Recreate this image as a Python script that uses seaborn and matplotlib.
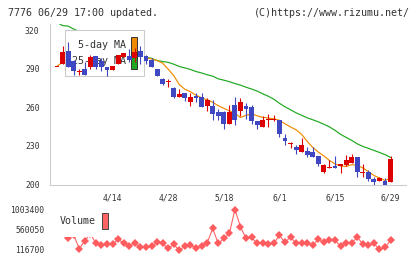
import numpy as np
import pandas as pd
import matplotlib
matplotlib.use("Agg")
import matplotlib.pyplot as plt
import seaborn as sns
from matplotlib.patches import Patch

# trading days 2020/03/31 - 2020/06/29 (golden week holidays closed)
holidays = ['2020-04-29', '2020-05-04', '2020-05-05', '2020-05-06']
days = pd.bdate_range('2020-03-31', '2020-06-29')
days = days[~days.isin(pd.to_datetime(holidays))]

label_days = ['4/14', '4/28', '5/18', '6/1', '6/15', '6/29']

opens = [292, 294, 304, 296, 288, 290, 291, 300, 296, 291, 289, 294, 299, 300, 298, 304,
         300, 297, 290, 282, 280, 275, 268, 271, 264, 269, 268, 261, 261, 256, 256, 247,
         262, 257, 261, 260, 249, 245, 250, 250, 250, 236, 232, 229, 225, 226, 225, 222,
         210, 213, 214, 214, 215, 217, 221, 209, 210, 204, 203, 203, 202]
highs = [292, 308, 311, 297, 290, 295, 301, 300, 298, 291, 292, 301, 302, 305, 306, 308,
         301, 298, 290, 283, 282, 276, 274, 271, 271, 271, 271, 267, 266, 259, 257, 262,
         268, 267, 263, 262, 249, 253, 255, 254, 250, 239, 233, 231, 236, 229, 229, 222,
         216, 219, 222, 216, 223, 224, 221, 216, 211, 206, 206, 205, 222]
lows = [292, 294, 291, 285, 285, 285, 290, 290, 288, 284, 289, 294, 299, 295, 295, 294,
        294, 291, 284, 277, 276, 267, 268, 265, 261, 264, 260, 257, 250, 250, 243, 247,
        246, 253, 251, 247, 243, 245, 245, 249, 237, 231, 228, 224, 225, 221, 221, 214,
        209, 213, 213, 209, 214, 217, 206, 206, 203, 200, 203, 200, 202]
closes = [292, 303, 291, 288, 288, 285, 299, 291, 291, 289, 292, 301, 302, 297, 303, 299,
          296, 291, 284, 278, 280, 268, 270, 267, 268, 267, 260, 266, 255, 253, 247, 256,
          250, 264, 259, 249, 246, 250, 251, 251, 239, 234, 232, 227, 231, 223, 221, 216,
          215, 213, 213, 216, 219, 221, 210, 209, 204, 202, 205, 200, 220]

ma5 = [292, 295, 297, 296, 294, 292, 291, 291, 292, 292, 291, 293, 295, 297, 299, 300,
       298.6, 297.6, 296.3, 294.3, 289.6, 284.6, 277.6, 274, 272.1, 269.4, 267.4, 265.9,
       263.9, 261.2, 259.2, 257.3, 255.3, 252, 253.8, 254.9, 253.4, 252.2, 251.7, 251,
       249.9, 247.2, 244.7, 242.5, 239, 233.5, 228.8, 225.2, 222.2, 218.7, 216, 214.4,
       214, 215.4, 214.8, 212.9, 210.1, 207, 205.1, 203.1, 205]
ma25 = [326, 323.5, 323.1, 320.8, 319, 318, 316.5, 315, 313.5, 312, 310.5, 308.5, 306.5,
        304, 302, 299.5, 298.9, 298.1, 296.3, 295.6, 294.9, 293.5, 291.7, 290.6, 289.4,
        287.8, 286.7, 285.3, 284.2, 282.1, 281.1, 279.9, 278.5, 277.2, 275.6, 274.2,
        272.6, 270.5, 268.6, 266.3, 263.1, 260.4, 258.1, 255.7, 253.8, 251.8, 250.3,
        248.7, 246.8, 244.8, 242.1, 239, 236.6, 234.3, 231.6, 229.6, 228.1, 226.5, 224.9,
        223.2, 221]

volume = [np.nan, np.nan, 376000, 436000, 138000, 306000, 464000, 249000, 211000, 227000,
          233000, 337000, 262000, 189000, 249000, 161000, 161000, 189000, 271000, 249000,
          139000, 227000, 101000, 189000, 211000, 152000, 196000, 262000, 579000, 249000,
          359000, 469000, 996000, 614000, 359000, 381000, 249000, 249000, 227000, 249000,
          431000, 271000, 394000, 249000, 262000, 249000, 211000, 337000, 271000, 321000,
          321000, 189000, 262000, 249000, 394000, 233000, 211000, 249000, 117000, 161000,
          321000]

price_ticks = [200, 230, 260, 290, 320]
vol_ticks = [116700, 560050, 1003400]

RED = '#dc0000'
BLUE = '#3f47c2'
ORANGE = '#f08a00'
GREEN = '#1fa81f'
VOLC = '#ff5c5f'
GRID = '#cccccc'
TXT = '#333333'

sns.set_style('white')
plt.rcParams['font.family'] = ['DejaVu Sans Mono']

W, H = 420, 259
fig = plt.figure(figsize=(W / 100, H / 100), dpi=100)

x = np.arange(len(days))
xlo, xhi = -1.26, 62.77

# --- price panel ---
ax = fig.add_axes([50 / W, 1 - 184.5 / H, 356 / W, 160.5 / H])
o = np.array(opens, float)
c = np.array(closes, float)
cols = np.where(c >= o, RED, BLUE)
body_h = np.maximum(np.abs(c - o), 0.8)
body_lo = np.minimum(o, c) - (body_h - np.abs(c - o)) / 2

sns.lineplot(x=x, y=ma25, color=GREEN, lw=0.85, ax=ax, legend=False, zorder=2)
sns.lineplot(x=x, y=ma5, color=ORANGE, lw=0.85, ax=ax, legend=False, zorder=2)
ax.vlines(x, lows, highs, colors=cols, lw=0.8, zorder=4)
ax.bar(x, body_h, bottom=body_lo, width=0.88, color=cols, lw=0, zorder=5)

ax.set_xlim(xlo, xhi)
ax.set_ylim(200, 200 + 160.5 / 1.2867)
sns.despine(ax=ax)
for s in ('left', 'bottom'):
    ax.spines[s].set_color(GRID)
    ax.spines[s].set_linewidth(0.8)
ax.set_yticks(price_ticks)
ax.set_xticks(np.linspace(xlo, xhi, 12))
ax.set_xticklabels([])
day_labels = [f'{d.month}/{d.day}' for d in days]
ax.set_xticks([day_labels.index(s) for s in label_days], label_days, minor=True)
ax.tick_params(axis='y', direction='inout', length=5.8, width=0.8, color=GRID,
               labelcolor=TXT, labelsize=5.8, pad=4.6)
ax.tick_params(axis='x', which='major', direction='inout', length=6.5, width=0.8, color=GRID)
ax.tick_params(axis='x', which='minor', length=0, labelcolor=TXT, labelsize=5.8, pad=6.3)
ax.set_xlabel('')
ax.set_ylabel('')

# handleheight 2.085 -> each swatch row is 1.6 font sizes tall
handles = [Patch(facecolor=ORANGE, edgecolor='#333333', lw=0.7),
           Patch(facecolor=GREEN, edgecolor='#333333', lw=0.7)]
leg = ax.legend(handles, ['5-day MA', '25-day MA'], loc='upper left',
                bbox_to_anchor=(65 / W, 1 - 30 / H), bbox_transform=fig.transFigure,
                borderaxespad=0, markerfirst=False, fontsize=7.2, handlelength=0.6,
                handleheight=2.085, handletextpad=0.5, labelspacing=0, borderpad=0.7,
                frameon=True, fancybox=False, framealpha=1, edgecolor=GRID,
                facecolor='white', labelcolor=TXT)
leg.get_frame().set_linewidth(0.8)
leg.set_zorder(3)

# --- volume panel ---
axv = fig.add_axes([50 / W, 1 - 256 / H, 356 / W, 53 / H])
sns.lineplot(x=x, y=volume, color=VOLC, lw=0.75, marker='D', markersize=4.4,
             markeredgewidth=0, ax=axv, legend=False)
axv.set_xlim(xlo, xhi)
axv.set_ylim(116700 - 6.5 * 22002, 116700 + 46.5 * 22002)
for s in axv.spines.values():
    s.set_visible(False)
axv.set_xticks([])
axv.set_yticks(vol_ticks, [str(v) for v in vol_ticks])
axv.tick_params(axis='y', length=0, labelcolor=TXT, labelsize=5.8, pad=4.1)
axv.set_xlabel('')
axv.set_ylabel('')
vleg = axv.legend([Patch(facecolor='#ff6464', edgecolor='#444444', lw=0.7)], ['Volume'],
                  loc='upper left', bbox_to_anchor=(51 / W, 1 - 204 / H),
                  bbox_transform=fig.transFigure, borderaxespad=0, markerfirst=False,
                  fontsize=7.2, handlelength=0.65, handleheight=2.16, handletextpad=0.6,
                  borderpad=0.85, frameon=True, fancybox=False, framealpha=1,
                  edgecolor='none', facecolor='white', labelcolor=TXT)

# --- header ---
fig.text(8 / W, 1 - 12.7 / H, '7776 06/29 17:00 updated.', ha='left', va='center',
         fontsize=7.2, color=TXT)
fig.text(409.5 / W, 1 - 12.7 / H, '(C)https://www.rizumu.net/', ha='right', va='center',
         fontsize=7.2, color=TXT)

fig.savefig('out.png', dpi=100)
